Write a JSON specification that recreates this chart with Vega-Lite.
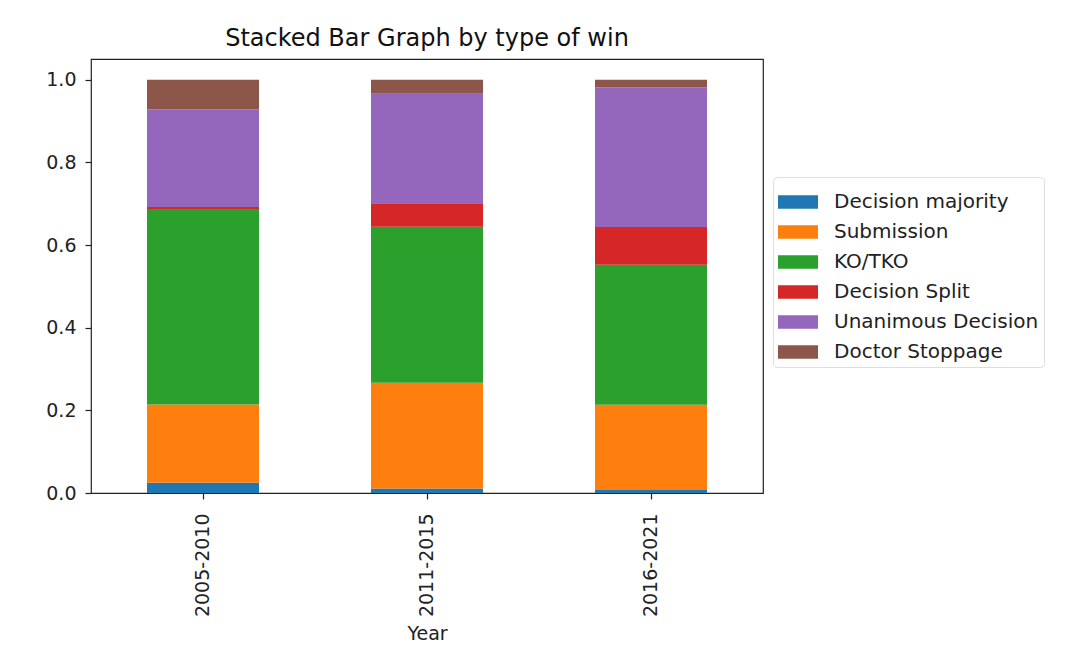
{
  "$schema": "https://vega.github.io/schema/vega-lite/v6.json",
  "autosize": "none",
  "padding": {"left": 91, "top": 59, "right": 311, "bottom": 167},
  "width": 672,
  "height": 434,
  "background": "white",
  "title": {
    "text": "Stacked Bar Graph by type of win",
    "font": "DejaVu Sans",
    "fontSize": 24,
    "fontWeight": "normal",
    "color": "#111",
    "anchor": "middle",
    "frame": "group",
    "offset": 8
  },
  "config": {
    "view": {"stroke": "#222", "strokeWidth": 1.2},
    "axis": {
      "labelFont": "DejaVu Sans",
      "labelFontSize": 19,
      "labelColor": "#222",
      "titleFont": "DejaVu Sans",
      "titleFontSize": 19,
      "titleFontWeight": "normal",
      "titleColor": "#222",
      "tickColor": "#222",
      "tickWidth": 1.2,
      "tickSize": 6,
      "domain": false,
      "grid": false
    }
  },
  "data": {
    "values": [
      {"period": "2005-2010", "type": "Decision majority", "share": 0.025},
      {"period": "2005-2010", "type": "Submission", "share": 0.189},
      {"period": "2005-2010", "type": "KO/TKO", "share": 0.473},
      {"period": "2005-2010", "type": "Decision Split", "share": 0.005},
      {"period": "2005-2010", "type": "Unanimous Decision", "share": 0.236},
      {"period": "2005-2010", "type": "Doctor Stoppage", "share": 0.072},
      {"period": "2011-2015", "type": "Decision majority", "share": 0.011},
      {"period": "2011-2015", "type": "Submission", "share": 0.256},
      {"period": "2011-2015", "type": "KO/TKO", "share": 0.377},
      {"period": "2011-2015", "type": "Decision Split", "share": 0.057},
      {"period": "2011-2015", "type": "Unanimous Decision", "share": 0.265},
      {"period": "2011-2015", "type": "Doctor Stoppage", "share": 0.034},
      {"period": "2016-2021", "type": "Decision majority", "share": 0.007},
      {"period": "2016-2021", "type": "Submission", "share": 0.2065},
      {"period": "2016-2021", "type": "KO/TKO", "share": 0.339},
      {"period": "2016-2021", "type": "Decision Split", "share": 0.091},
      {"period": "2016-2021", "type": "Unanimous Decision", "share": 0.3375},
      {"period": "2016-2021", "type": "Doctor Stoppage", "share": 0.019}
    ]
  },
  "transform": [
    {"calculate": "indexof(['Decision majority', 'Submission', 'KO/TKO', 'Decision Split', 'Unanimous Decision', 'Doctor Stoppage'], datum.type)", "as": "stack_rank"}
  ],
  "mark": {"type": "bar", "strokeWidth": 0},
  "encoding": {
    "x": {
      "field": "period",
      "type": "nominal",
      "title": "Year",
      "scale": {"paddingInner": 0.5, "paddingOuter": 0.25},
      "axis": {"labelAngle": 270, "labelPadding": 14, "titlePadding": 8}
    },
    "y": {
      "field": "share",
      "type": "quantitative",
      "stack": "zero",
      "title": null,
      "scale": {"domain": [0, 1.05], "nice": false},
      "axis": {"values": [0, 0.2, 0.4, 0.6, 0.8, 1.0], "format": ".1f", "labelPadding": 9}
    },
    "color": {
      "field": "type",
      "type": "nominal",
      "sort": ["Decision majority", "Submission", "KO/TKO", "Decision Split", "Unanimous Decision", "Doctor Stoppage"],
      "scale": {
        "domain": ["Decision majority", "Submission", "KO/TKO", "Decision Split", "Unanimous Decision", "Doctor Stoppage"],
        "range": ["#1f77b4", "#ff7f0e", "#2ca02c", "#d62728", "#9467bd", "#8c564b"]
      },
      "legend": {
        "title": null,
        "orient": "none",
        "legendX": 682,
        "legendY": 118,
        "symbolType": "M-1,-0.333H1V0.333H-1Z",
        "symbolSize": 1600,
        "symbolStrokeWidth": 0,
        "labelFont": "DejaVu Sans",
        "labelFontSize": 20,
        "labelColor": "#222",
        "labelLimit": 400,
        "labelOffset": 16,
        "rowPadding": 0,
        "padding": 5,
        "strokeColor": "#ddd",
        "cornerRadius": 4,
        "fillColor": "white"
      }
    },
    "order": {"field": "stack_rank", "type": "quantitative", "sort": "ascending"}
  }
}
